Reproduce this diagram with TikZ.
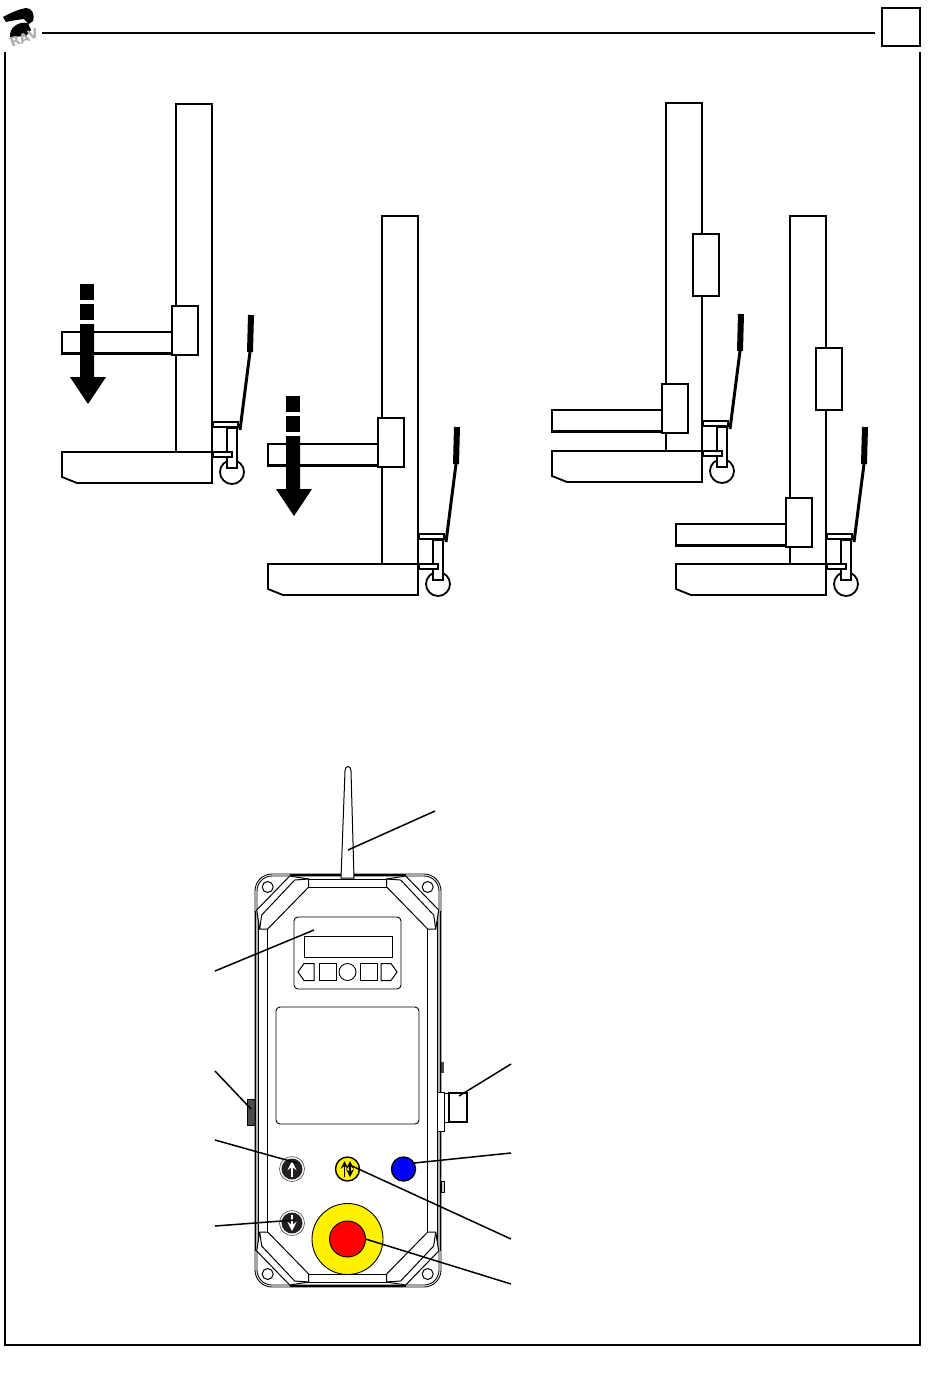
\documentclass[tikz,border=0pt]{standalone}
\usepackage{xcolor}
\usepackage{fontspec}
\usepackage{tikz}
\newfontfamily\logofont{DejaVu Sans}
\definecolor{btndark}{HTML}{231F20}
\definecolor{tabgray}{HTML}{4A4A4A}
\tikzset{
  frameline/.style={line width=0.8pt},
  liftline/.style={line width=0.9pt},
  bodyline/.style={line width=0.5pt},
  leader/.style={line width=0.75pt},
  roundpanel/.style={rectangle,draw,line width=0.45pt,rounded corners=2pt,inner sep=0pt,outer sep=0pt},
  keybox/.style={rectangle,draw,line width=0.45pt,minimum size=8.5pt,inner sep=0pt,outer sep=0pt},
  pushbtn/.style={circle,draw,line width=0.7pt,minimum size=12pt,inner sep=0pt,outer sep=0pt},
  pics/lift/.style={code={
    \draw[liftline] (-36,0) -- (-36,-348) -- (0,-348) -- (0,0);
    \draw[liftline] (0,-25) -- (15,-25);
    \draw[liftline] (15,-25) -- (15,0);
    \draw[liftline,fill=white] (20,20) circle (12);
    \draw[liftline,fill=white] (15,-24) rectangle (25,16);
    \draw[liftline,fill=white] (1,-30) rectangle (26,-25);
    \draw[liftline,fill=white] (1,0) rectangle (20,5);
    \draw[line width=1.5pt] (28,-22) -- (38,-100);
    \draw[line width=3pt] (38,-100) -- (39,-137);
    \draw[liftline,fill=white] (-150,0) -- (0,0) -- (0,31) -- (-135,31) -- (-150,25) -- cycle;
    \draw[liftline,fill=white] (-150,#1+26) rectangle (-40,#1+48);
    \draw[line width=1.3pt] (-149,#1+47) -- (-40,#1+47);
    \draw[liftline,fill=white] (-40,#1) rectangle (-14,#1+49);
  }},
  pics/loadbox/.style={code={
    \draw[liftline,fill=white] (-10,-217) rectangle (16,-155);
  }},
  pics/lowerarrow/.style={code={
    \fill (-132,-168) rectangle (-118,-152);
    \fill (-132,-148) rectangle (-118,-132);
    \fill (-132,-128) -- (-118,-128) -- (-118,-75) -- (-106,-75) -- (-124,-48) -- (-142,-75) -- (-132,-75) -- cycle;
  }},
  pics/bodycorner/.style={code={
    \fill[gray!60] (-92.5,-170) rectangle (-89.5,0);
    \draw[line width=0.6pt] (-92.5,-170) -- (-92.5,0);
    \draw[line width=0.6pt] (-89.5,-160) -- (-89.5,0);
    \draw[bodyline,fill=white] (-91,-170.5) -- (-58,-204.5) -- (-39,-201.5) -- (-39,-193.5) -- (-80,-151.5) -- (-88,-151.5) -- cycle;
    \draw[bodyline] (-86,-165.5) -- (-53,-200.5);
    \draw[bodyline] (-88,-151.5) -- (-86,-165.5);
    \draw[bodyline] (-53,-200.5) -- (-39,-201.5);
    \draw[bodyline] (-39,-201.5) -- (0,-201.5);
    \draw[bodyline] (-39,-193.5) -- (0,-193.5);
    \draw[line width=0.9pt] (-58,-205.5) -- (0,-205.5);
    \draw[bodyline] (-80,-151.5) -- (-80,0);
    \draw[bodyline] (-80,-193.5) circle (5.5);
  }}
}
\begin{document}
\begin{tikzpicture}[x=0.5pt,y=-0.5pt]
\useasboundingbox (0,0) rectangle (950,1378);

\fill (3,17) .. controls (12,12) and (20,9) .. (26,8) .. controls (32,8) and (35,14) .. (33,21) -- (29,24) -- (24,19) .. controls (16,20) and (10,21) .. (6,22) -- cycle;
\fill (28,23) .. controls (18,21) and (9,28) .. (10,37) -- (26,36) -- (31,30) -- cycle;
\node [rotate=22,text=gray!65,font=\logofont\bfseries\fontsize{6.5}{6.5}\selectfont,inner sep=0pt] (logotext) at (24,38) {RAV};

\coordinate (ruleleft) at (42,33);
\node [rectangle,draw,frameline,minimum size=19pt,inner sep=0pt,outer sep=0pt] (pagebox) at (901,27) {};
\coordinate (ruleright) at (875,33);
\draw [frameline] (ruleleft) -- (ruleright);
\draw [frameline] (5,52) -- (5,1345) -- (920,1345) -- (920,52);

\pic (liftone) at (212,452) {lift=-146};
\pic (lifttwo) at (418,564) {lift=-146};
\pic (liftthree) at (702,451) {lift=-67};
\pic (liftfour) at (826,564) {lift=-66};
\pic (loadthree) at (703,451) {loadbox};
\pic (loadfour) at (826,565) {loadbox};
\pic (arrowone) at (212,452) {lowerarrow};
\pic (arrowtwo) at (418,564) {lowerarrow};

\draw [bodyline,fill=tabgray] (247,1099) rectangle (255,1125);
\fill [tabgray] (441,1062) rectangle (444,1073);
\draw [bodyline,fill=gray!40] (441,1181) rectangle (444,1192);
\node [roundpanel,rounded corners=8.5pt,minimum width=93pt,minimum height=206.5pt] (body) at (348,1080.5) {};
\node [roundpanel,rounded corners=7.5pt,minimum width=91pt,minimum height=204.5pt] (bodyinner) at (348,1080.5) {};
\foreach \sx/\sy in {1/1,-1/1,1/-1,-1/-1}
  \pic [xscale=\sx,yscale=\sy] at (347.7,1080.5) {bodycorner};

\draw [bodyline,fill=white] (341,878) -- (345,771) .. controls (345,765) and (351,765) .. (351,771) -- (354,878) -- cycle;

\node [roundpanel,minimum width=53.5pt,minimum height=36pt] (display) at (347.5,953) {};
\node [rectangle,draw,line width=0.45pt,minimum width=44pt,minimum height=10.5pt,inner sep=0pt,outer sep=0pt] (screen) at (348,946.5) {};
\draw [bodyline] (314,963.5) -- (304,963.5) -- (298,972) -- (304,980.5) -- (314,980.5) -- cycle;
\node [keybox] (keyleft) at (327.5,972) {};
\node [circle,draw,line width=0.45pt,minimum size=8.5pt,inner sep=0pt] (keymid) at (347.5,972) {};
\node [keybox] (keyright) at (368.5,972) {};
\draw [bodyline] (381,963.5) -- (391,963.5) -- (397,972) -- (391,980.5) -- (381,980.5) -- cycle;
\node [roundpanel,minimum width=71.5pt,minimum height=58.5pt] (panel) at (347.5,1065.5) {};

\draw [bodyline,fill=white] (437,1092) rectangle (444,1131);
\draw [bodyline,fill=white] (444,1093) rectangle (449,1122);
\draw [liftline,fill=white] (449,1093) rectangle (467,1122);

\node [pushbtn,draw=black!70,line width=0.3pt,fill=white,minimum size=12.5pt] (upring) at (292,1169) {};
\node [circle,fill=btndark,minimum size=10.5pt,inner sep=0pt] (upbtn) at (292,1169) {};
\node [pushbtn,draw=black!70,line width=0.3pt,fill=white,minimum size=12.5pt] (downring) at (292,1223) {};
\node [circle,fill=btndark,minimum size=10.5pt,inner sep=0pt] (downbtn) at (292,1223) {};
\draw [white,line width=1pt,-stealth] (292,1177) -- (292,1161);
\draw [white,line width=1pt,-stealth] (292,1215) -- (292,1231);
\node [pushbtn,fill=yellow] (modebtn) at (347.5,1169) {};
\draw [line width=0.7pt,-stealth] (344.5,1177) -- (344.5,1161);
\draw [line width=0.7pt,stealth-stealth] (350,1161) -- (350,1177);
\node [pushbtn,fill=blue] (bluebtn) at (403.5,1169) {};
\node [circle,draw,line width=0.45pt,fill=yellow,minimum size=35.5pt,inner sep=0pt] (stopring) at (347.5,1239) {};
\node [circle,draw,line width=0.45pt,fill=red,minimum size=18pt,inner sep=0pt,outer sep=0pt] (stopbtn) at (347.5,1239) {};

\coordinate (tagantenna) at (435,811);
\coordinate (tagdisplay) at (215,971);
\coordinate (tagside) at (215,1071);
\coordinate (tagup) at (215,1140);
\coordinate (tagdown) at (215,1226);
\coordinate (tagplug) at (511,1064);
\coordinate (tagblue) at (511,1153);
\coordinate (tagmode) at (511,1239);
\coordinate (tagstop) at (511,1284);
\coordinate (antennapoint) at (348,850);
\coordinate (displaypoint) at (314,930);
\coordinate (sidepoint) at (251,1109);
\coordinate (uppoint) at (297,1163);
\coordinate (downpoint) at (295,1220);
\coordinate (plugpoint) at (459,1096);
\coordinate (modepoint) at (352,1166);
\draw [leader] (tagantenna) -- (antennapoint);
\draw [leader] (tagdisplay) -- (displaypoint);
\draw [leader] (tagside) -- (sidepoint);
\draw [leader] (tagup) -- (uppoint);
\draw [leader] (tagdown) -- (downpoint);
\draw [leader] (tagplug) -- (plugpoint);
\draw [leader] (tagblue) -- (bluebtn.30);
\draw [leader] (tagmode) -- (modepoint);
\draw [leader] (tagstop) -- (stopbtn.east);
\end{tikzpicture}
\end{document}
